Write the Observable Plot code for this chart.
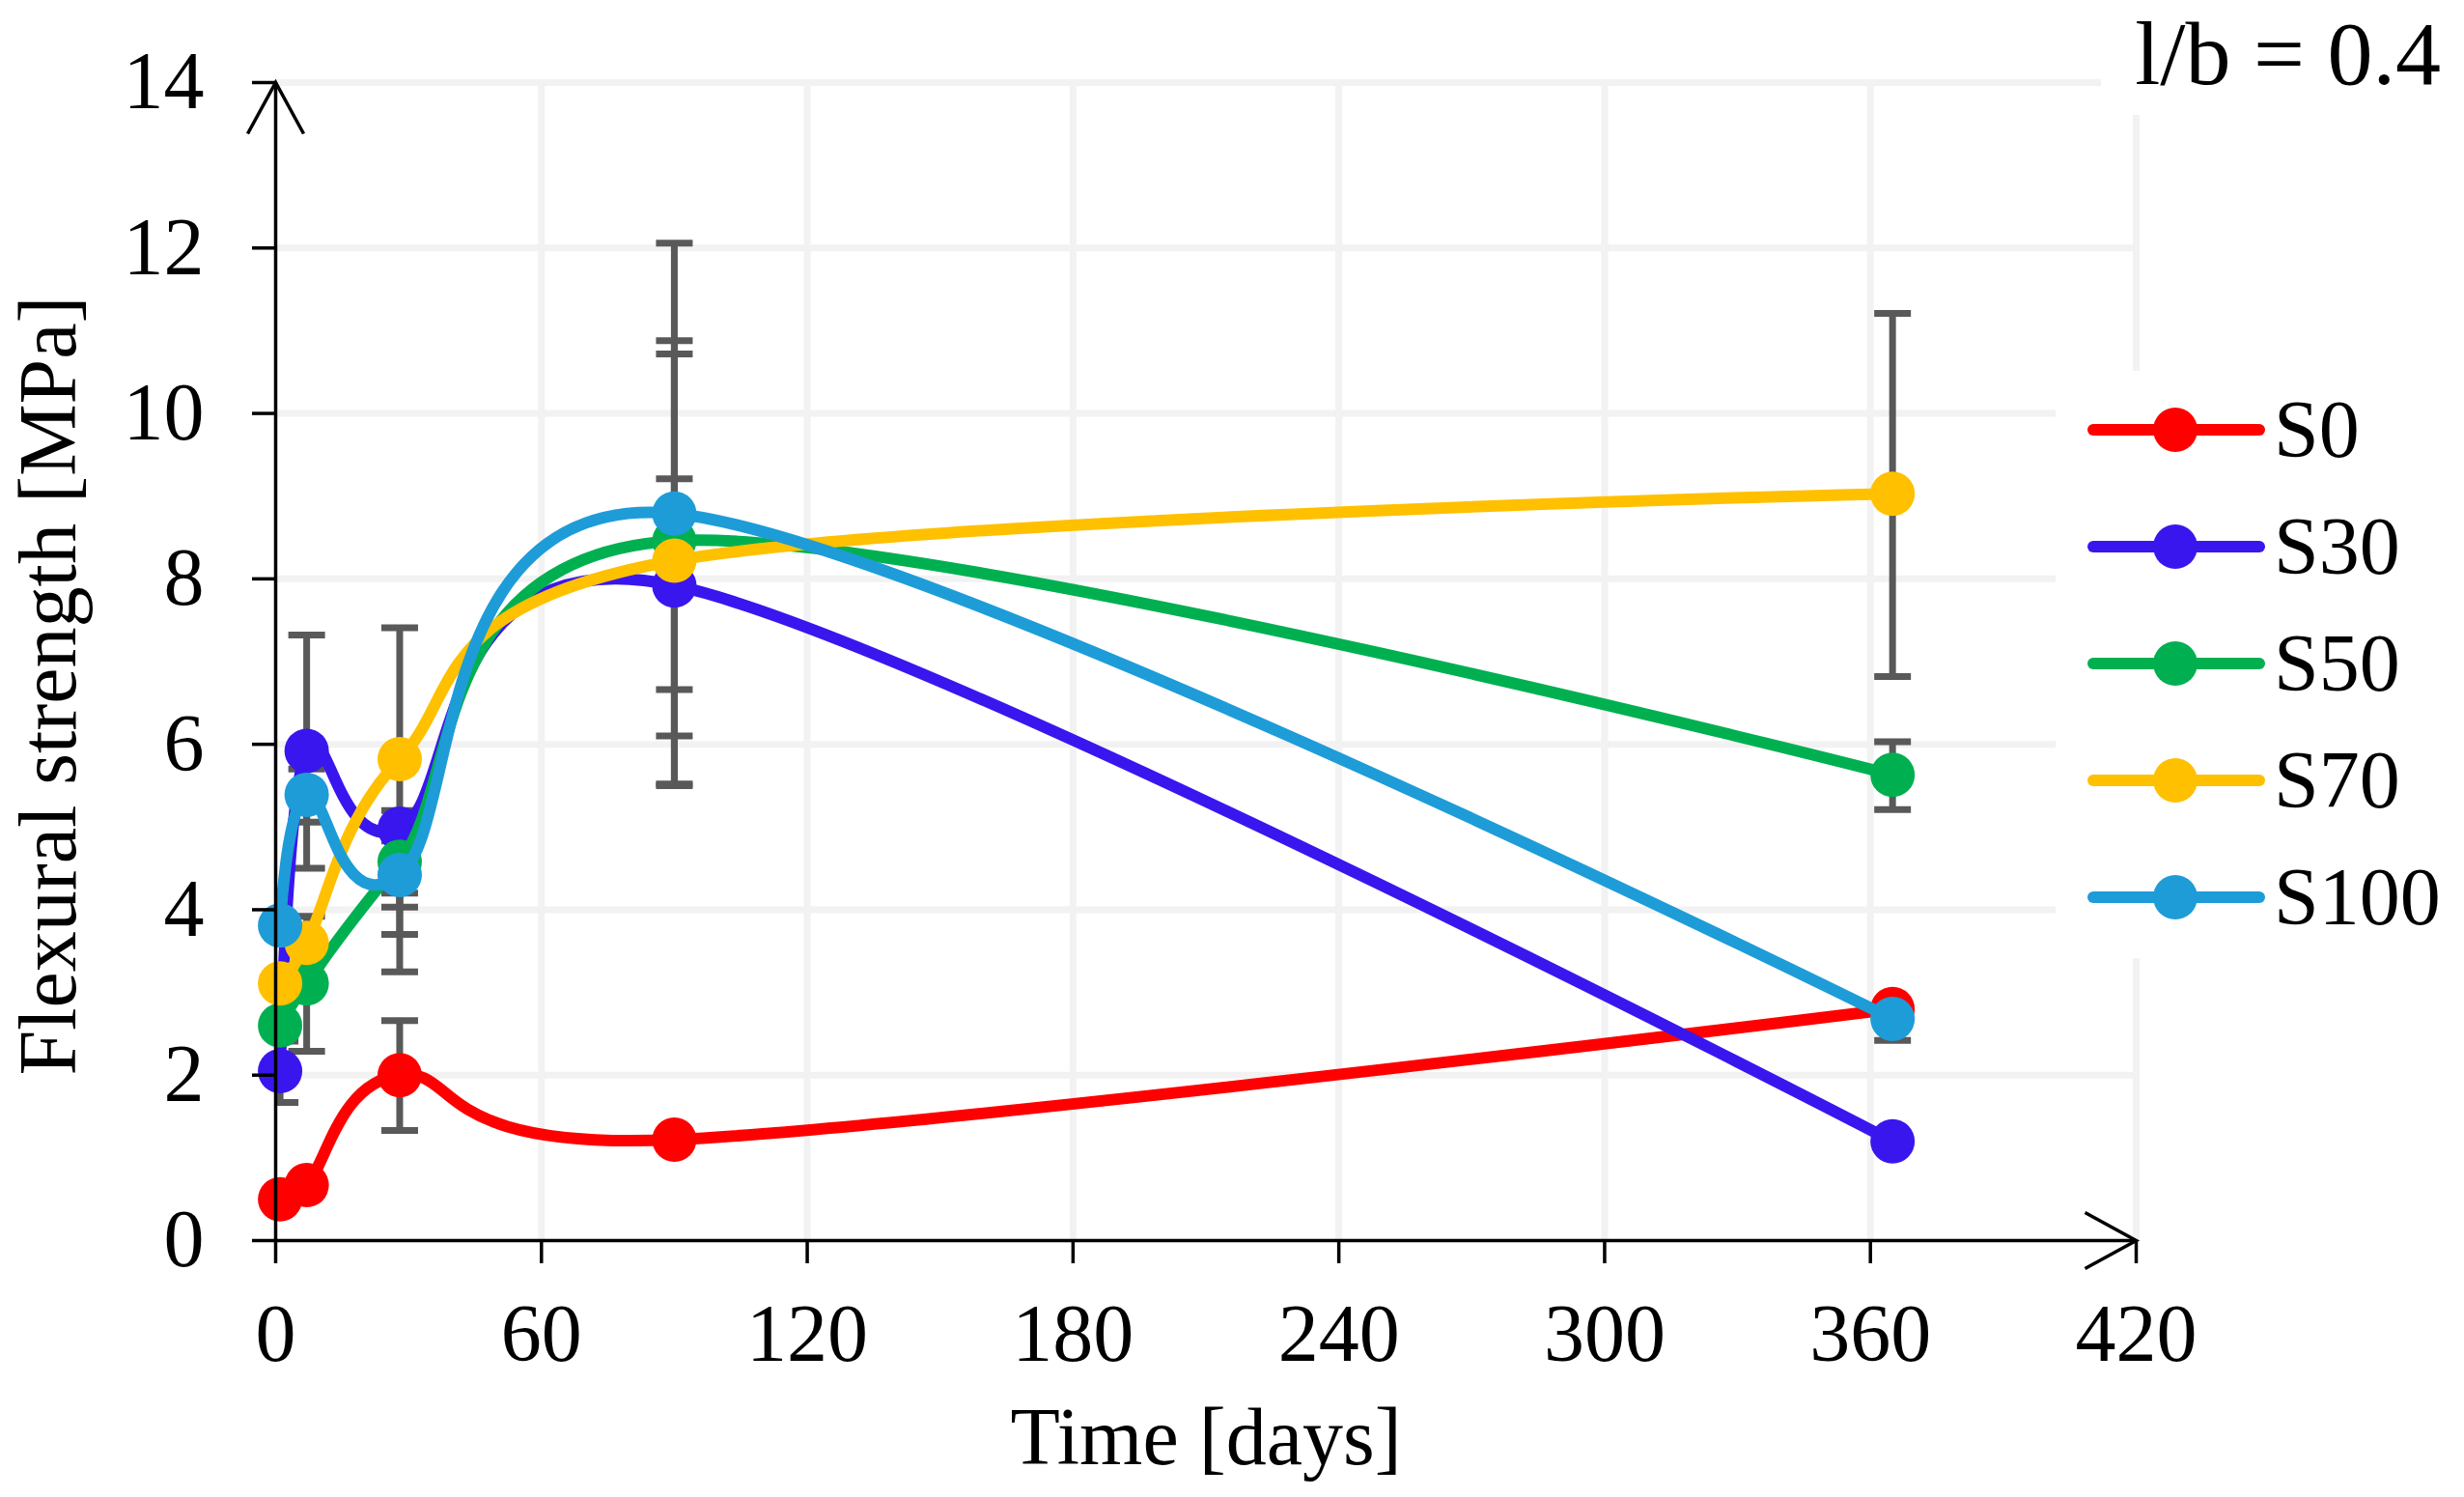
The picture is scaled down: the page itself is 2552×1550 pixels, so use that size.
<!DOCTYPE html>
<html>
<head>
<meta charset="utf-8">
<script src="https://cdn.jsdelivr.net/npm/d3@7"></script>
<script src="https://cdn.jsdelivr.net/npm/@observablehq/plot@0.6"></script>
<style>
  html, body { margin: 0; padding: 0; background: #fff; }
  #wrap { position: relative; width: 2552px; height: 1550px; overflow: hidden; font-family: 'Liberation Serif', 'Times New Roman', serif; }
  .box { position: absolute; background: #fff; }
  .box svg { display: block; overflow: visible; }
</style>
</head>
<body>
<div id="wrap"></div>
<script>
// ---------- data ----------
const days = [1, 7, 28, 90, 365];
const seriesNames = ["S0", "S30", "S50", "S70", "S100"];
const seriesColors = ["#ff0000", "#3a16ee", "#00b050", "#ffc000", "#1e9cd8"];

const S0   = [0.50, 0.67, 2.00, 1.22, 2.80];
const S30  = [2.05, 5.92, 4.98, 7.92, 1.20];
const S50  = [2.60, 3.11, 4.58, 8.46, 5.63];
const S70  = [3.11, 3.60, 5.82, 8.22, 9.03];
const S100 = [3.81, 5.39, 4.42, 8.79, 2.68];

// error bar ends (null = no bar)
const S0_lo   = [null, null, 1.33, null, null];
const S0_hi   = [null, null, 2.66, null, null];
const S30_lo  = [1.67, 4.50, 3.70, 6.66, null];
const S30_hi  = [2.41, 7.32, 5.20, 9.21, null];
const S50_lo  = [null, 2.29, 3.25, 6.10, 5.21];
const S50_hi  = [null, 3.92, 4.90, 10.88, 6.03];
const S70_lo  = [null, null, 4.20, 5.52, 6.82];
const S70_hi  = [null, null, 7.41, 10.72, 11.21];
const S100_lo = [null, 5.06, 4.03, 5.50, 2.42];
const S100_hi = [null, 5.70, 4.83, 12.06, 2.90];

const xTicks = [0, 60, 120, 180, 240, 300, 360, 420];
const yTicks = [0, 2, 4, 6, 8, 10, 12, 14];
const xDomain = [0, 420];
const yDomain = [0, 14];
const titleText = "l/b = 0.4";
const xLabel = "Time [days]";
const yLabel = "Flexural strength [MPa]";

// ---------- tables ----------
const values = [S0, S30, S50, S70, S100];
const los = [S0_lo, S30_lo, S50_lo, S70_lo, S100_lo];
const his = [S0_hi, S30_hi, S50_hi, S70_hi, S100_hi];

const seriesRows = seriesNames.map((name, i) =>
  days.map((d, j) => ({series: name, day: d, value: values[i][j]})));
const errRows = [];
seriesNames.forEach((name, i) => days.forEach((d, j) => {
  if (los[i][j] != null) errRows.push({series: name, day: d, lo: los[i][j], hi: his[i][j]});
}));

// ---------- custom symbols ----------
const capSymbol = {draw(ctx) { ctx.moveTo(-19, 0); ctx.lineTo(19, 0); }};
const upArrow = {draw(ctx) { ctx.moveTo(-29, 53); ctx.lineTo(0, 0); ctx.lineTo(29, 53); }};
const rightArrow = {draw(ctx) { ctx.moveTo(-53, -29); ctx.lineTo(0, 0); ctx.lineTo(-53, 29); }};

const errColor = "#595959";
const fontSize = 84;
const fmt = d => String(d);

const marks = [
  Plot.gridY(yTicks.filter(v => v > 0), {stroke: "#f2f2f2", strokeOpacity: 1, strokeWidth: 7}),
  Plot.gridX(xTicks.filter(v => v > 0), {stroke: "#f2f2f2", strokeOpacity: 1, strokeWidth: 7}),
  Plot.ruleX(errRows, {x: "day", y1: "lo", y2: "hi", stroke: errColor, strokeWidth: 7}),
  Plot.dot(errRows, {x: "day", y: "lo", symbol: capSymbol, fill: "none", stroke: errColor, strokeWidth: 7, clip: true}),
  Plot.dot(errRows, {x: "day", y: "hi", symbol: capSymbol, fill: "none", stroke: errColor, strokeWidth: 7, clip: true})
];

seriesRows.forEach((rows, i) => {
  marks.push(Plot.line(rows, {x: "day", y: "value", stroke: seriesColors[i], strokeWidth: 12, curve: "cardinal"}));
  marks.push(Plot.dot(rows, {x: "day", y: "value", r: 23, fill: seriesColors[i], stroke: "none"}));
});

marks.push(
  Plot.ruleY([yDomain[0]], {stroke: "black", strokeWidth: 3.5}),
  Plot.ruleX([xDomain[0]], {stroke: "black", strokeWidth: 3.5}),
  Plot.dot([0], {x: () => xDomain[0], y: () => yDomain[1], symbol: upArrow, fill: "none", stroke: "black", strokeWidth: 3.5}),
  Plot.dot([0], {x: () => xDomain[1], y: () => yDomain[0], symbol: rightArrow, fill: "none", stroke: "black", strokeWidth: 3.5}),
  Plot.axisX(xTicks, {tickSize: 24, tickPadding: 41, fontSize, strokeWidth: 3.5, tickFormat: fmt, label: null}),
  Plot.axisY(yTicks, {tickSize: 24, tickPadding: 50, fontSize, strokeWidth: 3.5, tickFormat: fmt, label: null}),
  Plot.text([xLabel], {frameAnchor: "bottom", dy: 231, lineAnchor: "bottom", textAnchor: "middle", text: d => d, fontSize}),
  Plot.text([yLabel], {frameAnchor: "left", dx: -234, dy: 25, rotate: -90, lineAnchor: "middle", textAnchor: "middle", text: d => d, fontSize})
);

const chart = Plot.plot({
  width: 2552,
  height: 1550,
  marginLeft: 285,
  marginRight: 340,
  marginTop: 85,
  marginBottom: 266,
  x: {domain: xDomain, axis: null},
  y: {domain: yDomain, axis: null},
  style: {fontFamily: "'Liberation Serif', 'Times New Roman', serif", fontSize: fontSize + "px", background: "white", color: "black", overflow: "visible"},
  marks
});

const wrap = document.getElementById("wrap");
wrap.appendChild(chart);

// ---------- title box ----------
const tbox = d3.select(wrap).append("div").attr("class", "box")
  .style("left", "2176px").style("top", "0px").style("width", "376px").style("height", "119px");
tbox.append("svg").attr("width", 376).attr("height", 119)
  .append("text").attr("x", 352).attr("y", 87).attr("text-anchor", "end")
  .attr("font-size", 94).attr("font-family", "'Liberation Serif', 'Times New Roman', serif")
  .attr("fill", "black").text(titleText);

// ---------- legend box ----------
const lbox = d3.select(wrap).append("div").attr("class", "box")
  .style("left", "2129px").style("top", "384px").style("width", "423px").style("height", "608px");
const lsvg = lbox.append("svg").attr("width", 423).attr("height", 608);
const row = lsvg.selectAll("g").data(seriesNames).join("g")
  .attr("transform", (d, i) => `translate(0,${61 + i * 121})`);
row.append("line").attr("x1", 39).attr("x2", 211).attr("y1", 0).attr("y2", 0)
  .attr("stroke", (d, i) => seriesColors[i]).attr("stroke-width", 12).attr("stroke-linecap", "round");
row.append("circle").attr("cx", 124).attr("cy", 0).attr("r", 23).attr("fill", (d, i) => seriesColors[i]);
row.append("text").attr("x", 226).attr("y", 28).attr("font-size", fontSize)
  .attr("font-family", "'Liberation Serif', 'Times New Roman', serif").attr("fill", "black").text(d => d);
</script>
</body>
</html>
